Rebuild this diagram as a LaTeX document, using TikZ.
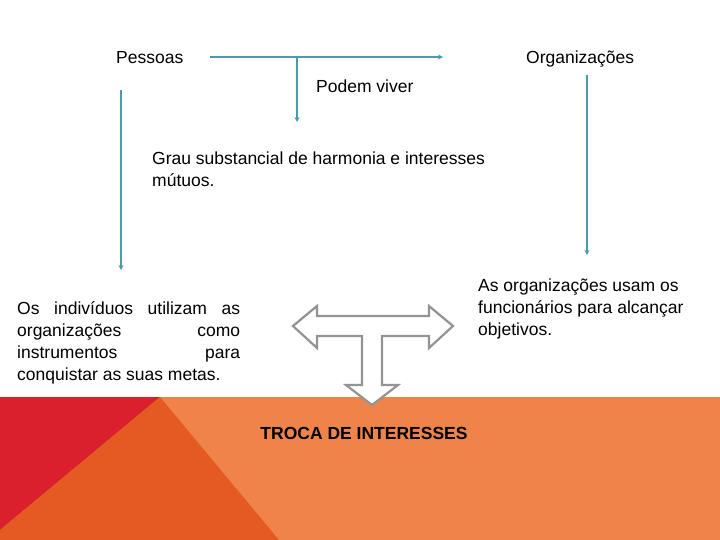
\documentclass[tikz,border=0pt]{standalone}
\usepackage{fontspec}
\setmainfont{Liberation Sans}
\usetikzlibrary{arrows.meta}
\definecolor{teal1}{HTML}{4A9BB0}
\definecolor{orl}{HTML}{EE844A}
\definecolor{ord}{HTML}{E55A22}
\definecolor{redd}{HTML}{D9202C}
\tikzset{conn/.style={teal1,line width=1.3pt,-{Stealth[length=5pt,width=5pt]}},
txt/.style={inner sep=0pt,font=\fontsize{17.5pt}{22pt}\selectfont,text=black},
bigarrow/.style={draw=gray!85,line width=2.2pt,fill=white,line join=miter}}
\begin{document}
\begin{tikzpicture}[x=1pt,y=-1pt]
\useasboundingbox (0,0) rectangle (720,540);
\fill[orl] (0,397) rectangle (720,540);
\fill[redd] (0,397) -- (160,397) -- (0,530) -- cycle;
\fill[ord] (160,397) -- (279,540) -- (0,540) -- (0,530) -- cycle;
\node[txt,anchor=base west] (p) at (116,64) {Pessoas};
\node[txt,anchor=base west] (o) at (526,64) {Organizações};
\node[txt,anchor=base west] (pv) at (316,93) {Podem viver};
\node[txt,anchor=base west,align=left] (g) at (152,187) {Grau substancial de harmonia e interesses\\mútuos.};
\node[txt,anchor=base west,align=left] (l) at (17,380) {\makebox[223pt][s]{Os indivíduos utilizam as}\\\makebox[223pt][s]{organizações como}\\\makebox[223pt][s]{instrumentos para}\\conquistar as suas metas.};
\node[txt,anchor=base west,align=left] (r) at (478,335) {As organizações usam os\\funcionários para alcançar\\objetivos.};
\node[txt,anchor=base,font=\fontsize{17.5pt}{20pt}\selectfont\bfseries] (t) at (364,439) {TROCA DE INTERESSES};
\coordinate (h1) at (210,57); \coordinate (h2) at (443,57);
\coordinate (v1) at (297,57); \coordinate (v2) at (297,122);
\coordinate (l1) at (121,90); \coordinate (l2) at (121,270);
\coordinate (r1) at (587,75); \coordinate (r2) at (587,255);
\draw[conn] (h1) -- (h2);
\draw[conn] (v1) -- (v2);
\draw[conn] (l1) -- (l2);
\draw[conn] (r1) -- (r2);
\draw[bigarrow] (293,326) -- (317,306) -- (317,316) -- (429,316) -- (429,306) -- (453,326) -- (429,348) -- (429,336) -- (382,336) -- (382,385) -- (398,385) -- (372,405) -- (346,385) -- (362,385) -- (362,336) -- (317,336) -- (317,348) -- cycle;
\end{tikzpicture}
\end{document}
